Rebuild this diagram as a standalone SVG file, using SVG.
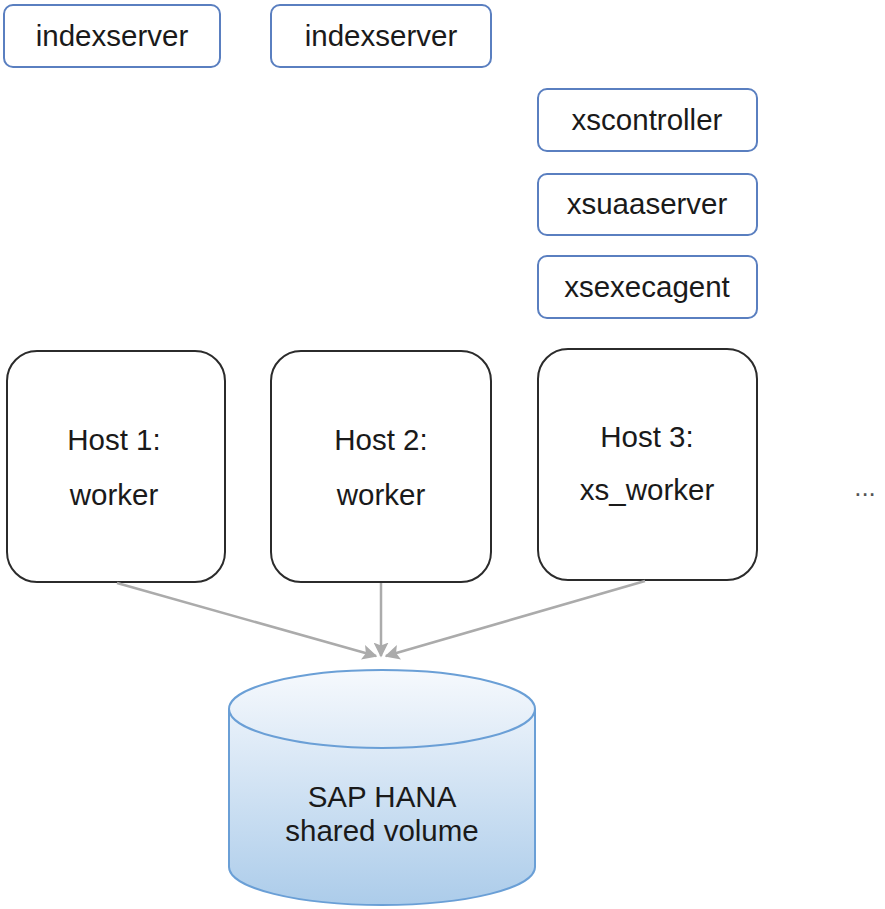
<svg xmlns="http://www.w3.org/2000/svg" width="885" height="909" viewBox="0 0 885 909">
<style>
text{font-family:"Liberation Sans",Arial,sans-serif;font-size:29.5px;fill:#1a1a1a;text-anchor:middle}
.svc{fill:#fff;stroke:#5a7fc0;stroke-width:2}
.host{fill:#fff;stroke:#2b2b2b;stroke-width:2}
.conn{stroke:#ababab;stroke-width:2.5;fill:none}
</style>
<defs>
<linearGradient id="cyl" x1="0" y1="0" x2="0" y2="1">
<stop offset="0" stop-color="#f6f9fd"/>
<stop offset="1" stop-color="#acccea"/>
</linearGradient>
<marker id="ah" viewBox="0 0 10 10" refX="9" refY="5" markerWidth="6" markerHeight="6" orient="auto" markerUnits="strokeWidth">
<path d="M0,0 L10,5 L0,10 L2,5 z" fill="#ababab"/>
</marker>
</defs>
<rect width="885" height="909" fill="#fff"/>
<g id="indexserver1"><rect class="svc" x="4" y="5" width="216" height="62" rx="9"/><text x="112" y="46">indexserver</text></g>
<g id="indexserver2"><rect class="svc" x="271" y="5" width="220" height="62" rx="9"/><text x="381" y="46">indexserver</text></g>
<g id="xscontroller"><rect class="svc" x="538" y="89" width="219" height="62" rx="9"/><text x="647" y="130">xscontroller</text></g>
<g id="xsuaaserver"><rect class="svc" x="538" y="174" width="219" height="61" rx="9"/><text x="647" y="214">xsuaaserver</text></g>
<g id="xsexecagent"><rect class="svc" x="538" y="256" width="219" height="62" rx="9"/><text x="647" y="297">xsexecagent</text></g>
<g id="host1"><rect class="host" x="7" y="351" width="218" height="231" rx="30"/><text x="114" y="450">Host 1:</text><text x="114" y="505">worker</text></g>
<g id="host2"><rect class="host" x="271" y="351" width="220" height="231" rx="30"/><text x="381" y="450">Host 2:</text><text x="381" y="505">worker</text></g>
<g id="host3"><rect class="host" x="538" y="349" width="219" height="231" rx="30"/><text x="647" y="447">Host 3:</text><text x="647" y="500">xs_worker</text></g>
<g id="more"><text x="865" y="496" style="font-size:26px;fill:#555">...</text></g>
<g id="connectors">
<line class="conn" x1="117" y1="583" x2="376" y2="656" marker-end="url(#ah)"/>
<line class="conn" x1="381" y1="583" x2="381" y2="656" marker-end="url(#ah)"/>
<line class="conn" x1="645" y1="581" x2="386" y2="656" marker-end="url(#ah)"/>
</g>
<g id="volume">
<path d="M229,709 L229,867 A153,38 0 0 0 535,867 L535,709 A153,39 0 0 0 229,709 z" fill="url(#cyl)" stroke="#6a9fd6" stroke-width="2"/>
<path d="M229,709 A153,39 0 0 0 535,709" fill="none" stroke="#6a9fd6" stroke-width="2"/>
<text x="382" y="807">SAP HANA</text>
<text x="382" y="841">shared volume</text>
</g>
</svg>
